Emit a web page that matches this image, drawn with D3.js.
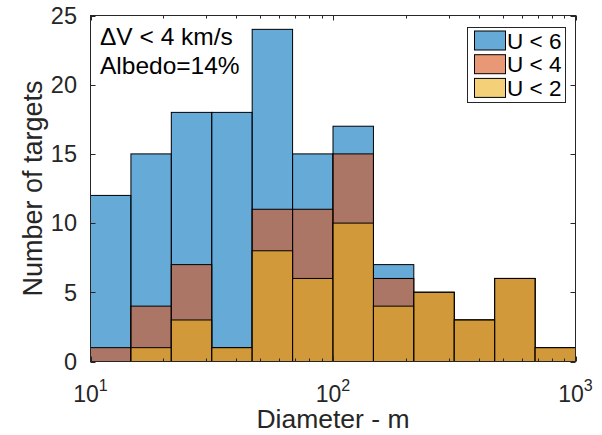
<!DOCTYPE html>
<html>
<head>
<meta charset="utf-8">
<script src="https://cdn.jsdelivr.net/npm/d3@7/dist/d3.min.js"></script>
<style>
  html, body { margin: 0; padding: 0; background: #fff; }
  svg { display: block; font-family: "Liberation Sans", Arial, Helvetica, sans-serif; }
</style>
</head>
<body>
<svg id="chart" width="602" height="435"></svg>
<script>
// Histogram bin edges (m), six log-spaced bins per decade
const binEdges = [10, 14.68, 21.54, 31.62, 46.42, 68.13, 100, 146.8, 215.4, 316.2, 464.2, 681.3, 1000];

// Target counts per diameter bin for each U threshold
const countsU6 = [12, 15, 18, 18, 24, 15, 17, 7, 5, 3, 6, 1];
const countsU4 = [1, 4, 7, 1, 11, 11, 15, 6, 5, 3, 6, 1];
const countsU2 = [0, 1, 3, 1, 8, 6, 10, 4, 5, 3, 6, 1];

const seriesNames = ["U < 6", "U < 4", "U < 2"];
const seriesColors = ["#0072BD", "#D95319", "#EDB120"];
const yTicks = [0, 5, 10, 15, 20, 25];
const xMajorTicks = [10, 100, 1000];

const svg = d3.select("#chart");
const plotL = 90.5, plotR = 575.5, plotT = 15.5, plotB = 361.5;
const axisColor = "#262626";

const x = d3.scaleLog().domain([10, 1000]).range([plotL, plotR]);
const y = d3.scaleLinear().domain([0, 25]).range([plotB, plotT]);

// Overlaid histograms, semi-transparent faces with black edges
const allSeries = [countsU6, countsU4, countsU2];
allSeries.forEach((counts, si) => {
  const bins = counts.map((c, i) => ({ x0: binEdges[i], x1: binEdges[i + 1], c }))
    .filter(d => d.c > 0);
  svg.append("g").selectAll("rect").data(bins).join("rect")
    .attr("x", d => x(d.x0))
    .attr("y", d => y(d.c))
    .attr("width", d => x(d.x1) - x(d.x0))
    .attr("height", d => y(0) - y(d.c))
    .attr("fill", seriesColors[si])
    .attr("fill-opacity", 0.6)
    .attr("stroke", "#000")
    .attr("stroke-width", 1);
});

// Axes box
svg.append("rect")
  .attr("x", plotL).attr("y", plotT)
  .attr("width", plotR - plotL).attr("height", plotB - plotT)
  .attr("fill", "none").attr("stroke", axisColor).attr("stroke-width", 1);

// X ticks (major + minor) on bottom and top, inward
const minorX = [];
[10, 100].forEach(dec => { for (let m = 2; m <= 9; m++) minorX.push(dec * m); });
const tg = svg.append("g").attr("stroke", axisColor).attr("stroke-width", 1);
xMajorTicks.forEach(v => {
  const px = Math.round(x(v)) + 0.5;
  tg.append("line").attr("x1", px).attr("x2", px).attr("y1", plotB).attr("y2", plotB - 5);
  tg.append("line").attr("x1", px).attr("x2", px).attr("y1", plotT).attr("y2", plotT + 5);
});
minorX.forEach(v => {
  const px = Math.round(x(v)) + 0.5;
  tg.append("line").attr("x1", px).attr("x2", px).attr("y1", plotB).attr("y2", plotB - 3);
  tg.append("line").attr("x1", px).attr("x2", px).attr("y1", plotT).attr("y2", plotT + 3);
});

// Y ticks on left and right, inward
yTicks.forEach(v => {
  const py = Math.round(y(v)) + 0.5;
  tg.append("line").attr("x1", plotL).attr("x2", plotL + 5).attr("y1", py).attr("y2", py);
  tg.append("line").attr("x1", plotR).attr("x2", plotR - 5).attr("y1", py).attr("y2", py);
});

// Y tick labels
svg.append("g").selectAll("text").data(yTicks).join("text")
  .attr("x", 77)
  .attr("y", d => y(d) + 8.3)
  .attr("text-anchor", "end")
  .attr("font-size", 23.5)
  .attr("fill", axisColor)
  .text(d => d);

// X tick labels as powers of ten
xMajorTicks.forEach(v => {
  const t = svg.append("text")
    .attr("x", x(v))
    .attr("y", 402)
    .attr("text-anchor", "middle")
    .attr("font-size", 23)
    .attr("fill", axisColor);
  t.append("tspan").text("10");
  t.append("tspan").attr("dy", -11).attr("font-size", 16).text(Math.round(Math.log10(v)));
});

// Axis labels
svg.append("text")
  .attr("x", (plotL + plotR) / 2).attr("y", 427.5)
  .attr("text-anchor", "middle").attr("font-size", 26.5).attr("fill", axisColor)
  .text("Diameter - m");
svg.append("text")
  .attr("transform", `translate(42,${(plotT + plotB) / 2}) rotate(-90)`)
  .attr("text-anchor", "middle").attr("font-size", 27).attr("fill", axisColor)
  .text("Number of targets");

// Annotation
svg.append("text").attr("x", 100).attr("y", 44.5).attr("font-size", 24.5).attr("fill", "#000")
  .text("\u0394V < 4 km/s");
svg.append("text").attr("x", 100).attr("y", 74).attr("font-size", 24.5).attr("fill", "#000")
  .text("Albedo=14%");

// Legend
const lg = svg.append("g");
lg.append("rect")
  .attr("x", 467.5).attr("y", 27.5).attr("width", 98).attr("height", 75)
  .attr("fill", "#fff").attr("stroke", axisColor).attr("stroke-width", 1);
seriesNames.forEach((name, i) => {
  const cy = 40.5 + i * 23.7;
  lg.append("rect")
    .attr("x", 474.5).attr("y", cy - 9.5).attr("width", 31).attr("height", 19)
    .attr("fill", seriesColors[i]).attr("fill-opacity", 0.6)
    .attr("stroke", "#000").attr("stroke-width", 1);
  lg.append("text")
    .attr("x", 507).attr("y", cy + 8)
    .attr("font-size", 22.5).attr("fill", "#000")
    .text(name);
});
</script>
</body>
</html>
